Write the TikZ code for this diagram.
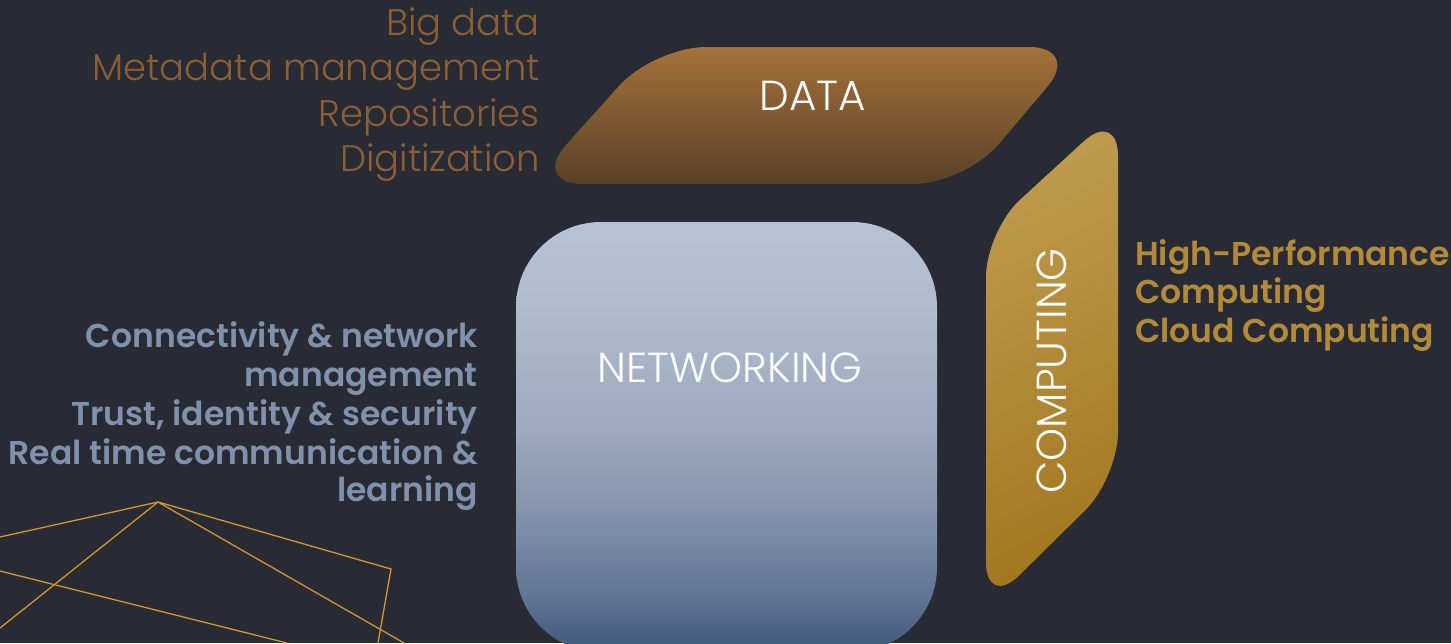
\documentclass[tikz,border=0pt]{standalone}
\usepackage{fontspec}
\setmainfont{Poppins}[UprightFont=* Light, BoldFont=* SemiBold]
\definecolor{bg}{HTML}{282A34}
\definecolor{datatxt}{HTML}{8B5F35}
\definecolor{nettxt}{HTML}{8091AB}
\definecolor{comptxt}{HTML}{B28A3A}
\definecolor{linecol}{HTML}{D4962F}
\definecolor{nt}{HTML}{B6C2D5}
\definecolor{n1}{HTML}{B0BCCF}
\definecolor{n2}{HTML}{9DAABF}
\definecolor{n3}{HTML}{8797AF}
\definecolor{n4}{HTML}{5E7392}
\definecolor{nb}{HTML}{3E597A}
\pgfdeclareverticalshading{netshade}{100bp}{color(0bp)=(nb); color(25bp)=(nb); color(31bp)=(n4); color(42.5bp)=(n3); color(51bp)=(n2); color(66bp)=(n1); color(75bp)=(nt); color(100bp)=(nt)}
\tikzset{
  lighttxt/.style={inner sep=0pt, font=\fontsize{37}{44}\selectfont},
  boldtxt/.style={inner sep=0pt, font=\bfseries\fontsize{33}{38}\selectfont},
  shapelabel/.style={inner sep=0pt, text=white, font=\fontsize{42}{48}\selectfont},
  deco/.style={draw=linecol, line width=1.3pt},
}
\begin{document}
\begin{tikzpicture}[x=1pt,y=-1pt]
\fill[bg] (0,0) rectangle (1451,643);
\useasboundingbox (0,0) rectangle (1451,643);
\begin{scope}
\clip (0,0) rectangle (1451,643);
% decorative lines
\coordinate (apex) at (158,502);
\coordinate (l1) at (0,537);
\coordinate (l2) at (0,628);
\coordinate (l3) at (391,569);
\coordinate (l4) at (378,643);
\coordinate (l5) at (404,643);
\coordinate (l6) at (0,571);
\coordinate (l7) at (287,643);
\draw[deco] (l1) -- (apex) -- (l3) -- (l4);
\draw[deco] (apex) -- (l2);
\draw[deco] (apex) -- (l5);
\draw[deco] (l6) -- (l7);
% networking box
\shade[rounded corners=85pt, shading=netshade] (516,222) rectangle (937,652);
\end{scope}
% data shape
\shade[rounded corners=52pt, top color={rgb,255:red,166;green,113;blue,58}, bottom color={rgb,255:red,88;green,65;blue,40}]
  (860,47) -- (1081,47) -- (965,184) -- (531,184) -- (654,47) -- cycle;
% computing shape
\shade[rounded corners=46pt, top color={rgb,255:red,192;green,155;blue,78}, bottom color={rgb,255:red,163;green,119;blue,33}, shading angle=25]
  (1118,300) -- (1118,478) -- (986,608) -- (986,231) -- (1118,110) -- cycle;
% shape labels
\node[shapelabel, anchor=base] (data) at (813,110) {DATA};
\node[shapelabel, anchor=base] (net) at (730,382) {NETWORKING};
\node[shapelabel, anchor=base, rotate=90] (comp) at (1066,371) {COMPUTING};
% data list
\node[lighttxt, text=datatxt, anchor=base east] (d1) at (540,35) {Big data};
\node[lighttxt, text=datatxt, anchor=base east] (d2) at (540,80) {Metadata management};
\node[lighttxt, text=datatxt, anchor=base east] (d3) at (540,126) {Repositories};
\node[lighttxt, text=datatxt, anchor=base east] (d4) at (540,171) {Digitization};
% networking list
\node[boldtxt, text=nettxt, anchor=base east] (nl1) at (478,347) {Connectivity \& network};
\node[boldtxt, text=nettxt, anchor=base east] (nl2) at (478,386) {management};
\node[boldtxt, text=nettxt, anchor=base east] (nl3) at (478,425) {Trust, identity \& security};
\node[boldtxt, text=nettxt, anchor=base east] (nl4) at (478,464) {Real time communication \&};
\node[boldtxt, text=nettxt, anchor=base east] (nl5) at (478,501) {learning};
% computing list
\node[boldtxt, text=comptxt, anchor=base west] (c1) at (1135,265) {High-Performance};
\node[boldtxt, text=comptxt, anchor=base west] (c2) at (1135,303) {Computing};
\node[boldtxt, text=comptxt, anchor=base west] (c3) at (1135,342) {Cloud Computing};
\end{tikzpicture}
\end{document}
